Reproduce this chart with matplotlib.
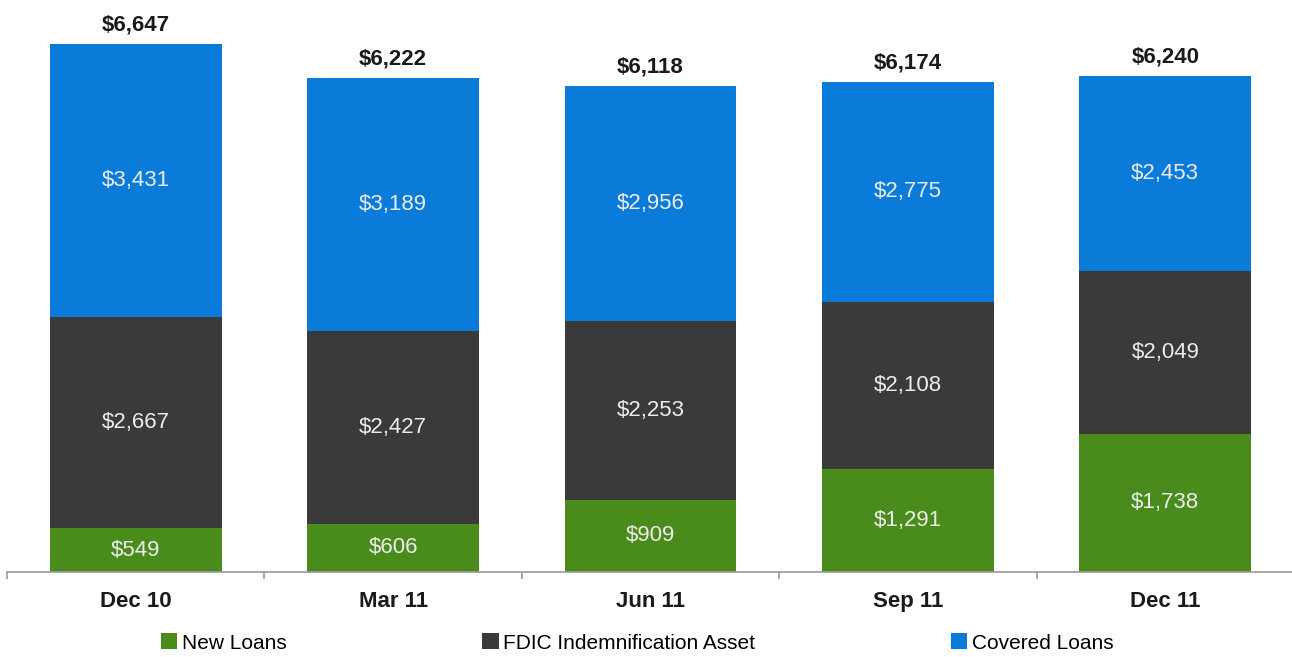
import numpy as np
import matplotlib
matplotlib.use("Agg")
import matplotlib.pyplot as plt
from matplotlib.patches import Patch

plt.rcParams['font.family'] = ['Liberation Sans', 'DejaVu Sans']

# Data (millions of dollars)
quarters = ['Dec 10', 'Mar 11', 'Jun 11', 'Sep 11', 'Dec 11']
new_loans = [549, 606, 909, 1291, 1738]
fdic_asset = [2667, 2427, 2253, 2108, 2049]
covered_loans = [3431, 3189, 2956, 2775, 2453]
totals = [6647, 6222, 6118, 6174, 6240]

series_names = ['New Loans', 'FDIC Indemnification Asset', 'Covered Loans']
colors = ['#4a8c1c', '#3a3a3a', '#0a7bd8']

fig = plt.figure(figsize=(12.92, 6.57), dpi=100)
ax = fig.add_axes([7 / 1292, 85 / 657, 1287 / 1292, 572 / 657])

x = np.arange(len(quarters))
width = 0.668
bottom = np.zeros(len(quarters))
for vals, col in zip([new_loans, fdic_asset, covered_loans], colors):
    vals = np.array(vals, dtype=float)
    ax.bar(x, vals, width, bottom=bottom, color=col, edgecolor='none', zorder=2)
    for xi, b, v in zip(x, bottom, vals):
        ax.text(xi, b + v / 2, f'${v:,.0f}', ha='center', va='center',
                color='#ececec', fontsize=16, zorder=3)
    bottom += vals

for xi, t in zip(x, totals):
    ax.annotate(f'${t:,}', (xi, t), xytext=(0, 6), textcoords='offset points',
                ha='center', va='bottom', fontsize=16, fontweight='bold',
                color='#1a1a1a')

ax.set_xlim(-0.5, 4.5)
ax.set_ylim(0, 7200)
for s in ['top', 'right', 'left']:
    ax.spines[s].set_visible(False)
ax.spines['bottom'].set_color('#999999')
ax.spines['bottom'].set_linewidth(1.2)
ax.set_yticks([])
ax.set_xticks(x)
ax.set_xticklabels(quarters, fontsize=16, fontweight='bold', color='#1a1a1a')
ax.tick_params(axis='x', which='major', length=0, pad=14)
ax.set_xticks(np.arange(-0.5, 4.6, 1.0), minor=True)
ax.tick_params(axis='x', which='minor', length=5, color='#999999', width=1.2)

handles = [Patch(facecolor=c, edgecolor='none', label=n) for c, n in zip(colors, series_names)]
fig.legend(handles=handles, loc='center', bbox_to_anchor=(637 / 1292, 1 - 643 / 657),
           ncol=3, frameon=False, fontsize=15, handlelength=0.8, handleheight=0.8,
           handletextpad=0.2, columnspacing=9.4, borderpad=0)

fig.savefig('out.png', dpi=100)
